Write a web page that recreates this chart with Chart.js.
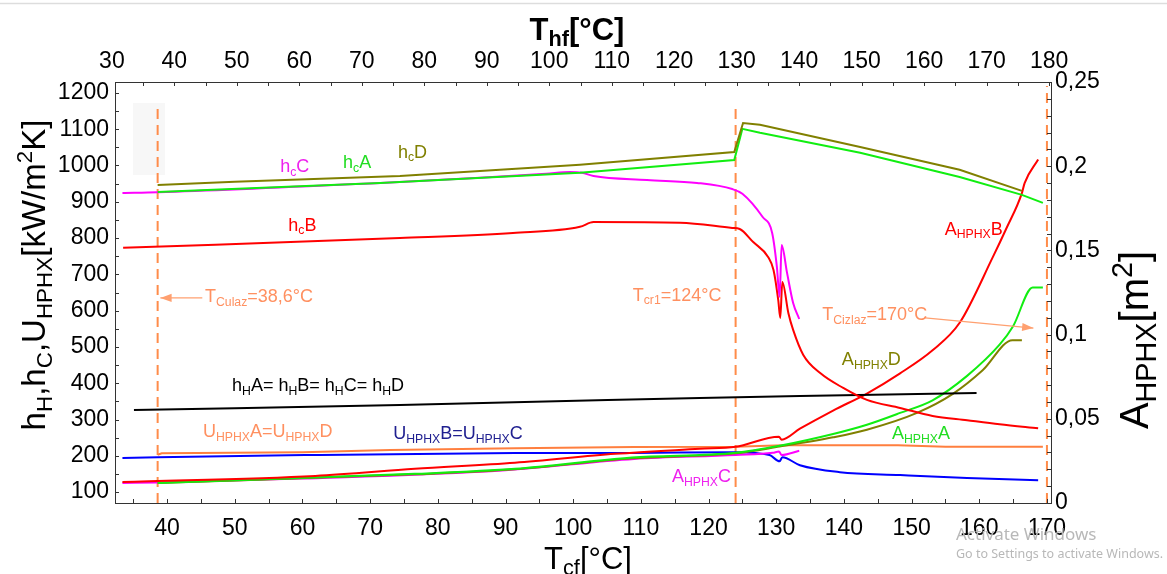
<!DOCTYPE html>
<html>
<head>
<meta charset="utf-8">
<script src="https://cdn.jsdelivr.net/npm/chart.js@4.4.1/dist/chart.umd.min.js"></script>
<style>
html,body{margin:0;padding:0;background:#fff;}
#wrap{width:1167px;height:574px;}
</style>
</head>
<body>
<div id="wrap"><canvas id="chart" width="1167" height="574"></canvas></div>
<script>
const FONT = '"Liberation Sans", Arial, sans-serif';

// tick labels
const tcfTicks = [40, 50, 60, 70, 80, 90, 100, 110, 120, 130, 140, 150, 160, 170];
const thfTicks = [30, 40, 50, 60, 70, 80, 90, 100, 110, 120, 130, 140, 150, 160, 170, 180];
const hTicks = [100, 200, 300, 400, 500, 600, 700, 800, 900, 1000, 1100, 1200];
const aTicks = [0, 0.05, 0.1, 0.15, 0.2, 0.25];

// heat transfer coefficients (left axis) vs T_cf
const hcD_T = [38.6, 50, 74.4, 101, 123.8, 125.1, 127.6, 142.4, 157.1, 166.3];
const hcD_V = [946, 955, 971, 1002, 1037, 1117, 1112, 1051, 988, 930];
const hcA_T = [38.6, 71.5, 101, 123.8, 125, 127.6, 142.4, 157.1, 166.3, 169.4];
const hcA_V = [927, 952, 980, 1015, 1101, 1090, 1035, 968, 919, 897];
const hcC_T = [33.4, 38.6, 71.5, 86.2, 96, 99.5, 101.3, 103, 110.9, 118.3, 123.5, 125, 128, 129.4, 130.1, 130.5, 130.8, 131.6, 132.5, 133.4];
const hcC_V = [924, 926, 952, 966, 977, 982, 980, 971, 960, 952, 935, 922, 858, 814, 720, 638, 781, 704, 621, 577];
const hcB_T = [33.5, 74.4, 91.1, 101, 103, 115.8, 123.5, 124.6, 126.6, 128.8, 129.6, 130.3, 130.6, 130.9, 131.8, 132.5, 134, 136.5, 139.9, 143.4, 148.3, 153.1, 158.2, 163, 168.7];
const hcB_V = [773, 800, 814, 831, 844, 842, 828, 825, 789, 748, 712, 629, 580, 679, 593, 547, 478, 428, 387, 354, 332, 310, 298, 287, 276];
const hH_T = [35.1, 50, 74.4, 105.1, 118.7, 133.5, 159.6];
const hH_V = [326, 331, 340, 354, 359, 365, 373];
const uAD_T = [38.6, 39.2, 60, 73, 91.4, 109, 124, 131, 148, 155, 169.4];
const uAD_V = [203, 207, 210, 216, 221, 224, 225, 229, 229, 225, 225];
const uBC_T = [33.4, 38.6, 60.4, 91.4, 109, 124, 129, 130.5, 130.9, 133.5, 139.4, 148.3, 158.2, 168.7];
const uBC_V = [194, 196, 202, 207.5, 208, 210, 202, 185, 196, 174, 155, 147, 139, 133];

// HPHX areas (right axis)
const aB_T = [33.4, 61.9, 76.6, 91.4, 106.2, 118.7, 124, 130.4, 130.8, 133.5, 138.4, 143.4, 148.3, 153.1, 157.1, 162, 164, 166.3, 166.7, 168.7];
const aB_V = [0.0125, 0.0161, 0.0203, 0.0239, 0.0292, 0.0322, 0.0334, 0.0394, 0.0376, 0.0441, 0.0549, 0.065, 0.077, 0.0907, 0.107, 0.146, 0.163, 0.184, 0.19, 0.204];
const aA_T = [38.6, 76.6, 91.4, 108.7, 124, 130.5, 138.4, 143.4, 148.3, 153.1, 158.2, 163, 165, 167.9, 169.4];
const aA_V = [0.0119, 0.0173, 0.0203, 0.027, 0.0298, 0.034, 0.041, 0.0465, 0.0535, 0.061, 0.0755, 0.094, 0.105, 0.128, 0.128];
const aD_T = [38.6, 76.6, 91.4, 108.7, 124, 130.5, 138.4, 143.4, 150.8, 156.1, 160.5, 164.9, 166.3];
const aD_V = [0.0119, 0.017, 0.02, 0.0265, 0.0295, 0.0335, 0.039, 0.0435, 0.0535, 0.0648, 0.0788, 0.0967, 0.0967];
const aC_T = [33.4, 38.6, 60, 90, 109, 124, 129.5, 130.4, 130.8, 133.4];
const aC_V = [0.0119, 0.0122, 0.0145, 0.0195, 0.0262, 0.0285, 0.0298, 0.0306, 0.0285, 0.031];

// critical temperatures (dashed lines)
const critT = [38.6, 124, 170];
const critTop = [1164, 1164, 1219];

const OLIVE = '#808000', GREEN = '#11ee11', MAG = '#ff00ff', RED = '#ff0000';
const ORANGE = '#ff7f3f', BLUE = '#0000ff', DASH = '#ff8c4a';

const pts = (xs, ys) => xs.map((x, i) => ({x: x, y: ys[i]}));
function line(xs, ys, color, axis, smooth) {
  const d = {data: pts(xs, ys), borderColor: color, borderWidth: 2, pointRadius: 0,
    yAxisID: axis, fill: false, tension: 0};
  if (smooth) d.cubicInterpolationMode = 'monotone';
  return d;
}

const datasets = [
  line(hcD_T, hcD_V, OLIVE, 'y', false),
  line(hcA_T, hcA_V, GREEN, 'y', false),
  line(hcC_T, hcC_V, MAG, 'y', true),
  line(hcB_T, hcB_V, RED, 'y', true),
  line(hH_T, hH_V, '#000', 'y', false),
  line(aB_T, aB_V, RED, 'y2', true),
  line(aA_T, aA_V, GREEN, 'y2', true),
  line(aD_T, aD_V, OLIVE, 'y2', true),
  line(aC_T, aC_V, MAG, 'y2', true),
  line(uAD_T, uAD_V, ORANGE, 'y', false),
  line(uBC_T, uBC_V, BLUE, 'y', true),
];
critT.forEach((t, i) => {
  datasets.push({data: [{x: t, y: 70}, {x: t, y: critTop[i]}], borderColor: DASH, borderWidth: 2,
    borderDash: [10, 6], pointRadius: 0, yAxisID: 'y'});
});

// text notes, placed in (T_cf, left axis) units
const notes = [
  {t: 'h_{c}C', x: 56.7, y: 982, c: '#ee22ee'},
  {t: 'h_{c}A', x: 66, y: 993, c: '#22dd22'},
  {t: 'h_{c}D', x: 74.1, y: 1021, c: OLIVE},
  {t: 'h_{c}B', x: 57.9, y: 820, c: RED},
  {t: 'T_{Culaz}=38,6°C', x: 45.6, y: 624, c: '#ff9060'},
  {t: 'T_{cr1}=124°C', x: 108.8, y: 627, c: '#ff9060'},
  {t: 'T_{Cizlaz}=170°C', x: 136.8, y: 574, c: '#ff9060'},
  {t: 'A_{HPHX}B', x: 154.9, y: 809, c: RED},
  {t: 'A_{HPHX}D', x: 139.7, y: 450, c: OLIVE},
  {t: 'A_{HPHX}A', x: 147.1, y: 246, c: '#22dd22'},
  {t: 'A_{HPHX}C', x: 114.6, y: 128, c: '#ee22ee'},
  {t: 'h_{H}A= h_{H}B= h_{H}C= h_{H}D', x: 49.6, y: 378, c: '#000'},
  {t: 'U_{HPHX}A=U_{HPHX}D', x: 45.3, y: 252, c: '#ff9060'},
  {t: 'U_{HPHX}B=U_{HPHX}C', x: 73.4, y: 246, c: '#202090'},
];
const arrows = [
  {x1: 45.2, y1: 635, x2: 39, y2: 635},
  {x1: 152, y1: 580, x2: 168, y2: 552},
];

function parse(s) {
  const out = [];
  const re = /([_^])\{([^}]*)\}|([^_^]+)/g;
  let m;
  while ((m = re.exec(s))) {
    if (m[3]) out.push([m[3], 0]);
    else out.push([m[2], m[1] === '_' ? 1 : 2]);
  }
  return out;
}
function rich(ctx, s, x, y, size, color, align, bold, subScale) {
  const parts = parse(s);
  const sc = subScale || 0.65;
  const f = k => (bold ? 'bold ' : '') + (k ? size * sc : size) + 'px ' + FONT;
  let w = 0;
  parts.forEach(p => { ctx.font = f(p[1]); w += ctx.measureText(p[0]).width; });
  let cx = align === 'center' ? x - w / 2 : x;
  ctx.fillStyle = color; ctx.textAlign = 'left'; ctx.textBaseline = 'alphabetic';
  parts.forEach(p => {
    ctx.font = f(p[1]);
    const dy = p[1] === 1 ? size * 0.2 : p[1] === 2 ? -size * 0.4 : 0;
    ctx.fillText(p[0], cx, y + dy);
    cx += ctx.measureText(p[0]).width;
  });
}

const decor = {
  id: 'decor',
  beforeDatasetsDraw(chart) {
    const {ctx} = chart;
    ctx.save();
    ctx.fillStyle = '#f7f7f7';
    ctx.fillRect(133, 103, 32, 72);
    ctx.restore();
  },
  afterDraw(chart) {
    const {ctx, chartArea: a, scales} = chart;
    const x = scales.x, x2 = scales.x2, y = scales.y, y2 = scales.y2;
    ctx.save();
    // frame
    ctx.strokeStyle = '#333'; ctx.lineWidth = 1;
    ctx.strokeRect(Math.round(a.left) + 0.5, Math.round(a.top) + 0.5, Math.round(a.width), Math.round(a.height));
    // inward ticks
    ctx.beginPath();
    for (let v = 35; v <= 170; v += 5) { const p = Math.round(x.getPixelForValue(v)) + 0.5; ctx.moveTo(p, a.bottom); ctx.lineTo(p, a.bottom - 4); }
    for (let v = 35; v <= 180; v += 5) { const p = Math.round(x2.getPixelForValue(v)) + 0.5; ctx.moveTo(p, a.top); ctx.lineTo(p, a.top + 4); }
    for (let v = 100; v <= 1200; v += 50) { const p = Math.round(y.getPixelForValue(v)) + 0.5; ctx.moveTo(a.left, p); ctx.lineTo(a.left + 4, p); }
    for (let i = 0; i <= 25; i++) { const p = Math.round(y2.getPixelForValue(i / 100)) + 0.5; ctx.moveTo(a.right, p); ctx.lineTo(a.right - 4, p); }
    ctx.stroke();
    // arrows
    ctx.strokeStyle = '#ffa070'; ctx.fillStyle = '#ffa070'; ctx.lineWidth = 1.3;
    arrows.forEach(r => {
      const p1 = [x.getPixelForValue(r.x1), y.getPixelForValue(r.y1)];
      const p2 = [x.getPixelForValue(r.x2), y.getPixelForValue(r.y2)];
      const ang = Math.atan2(p2[1] - p1[1], p2[0] - p1[0]);
      ctx.beginPath(); ctx.moveTo(p1[0], p1[1]); ctx.lineTo(p2[0], p2[1]); ctx.stroke();
      ctx.beginPath();
      ctx.moveTo(p2[0], p2[1]);
      ctx.lineTo(p2[0] - 12 * Math.cos(ang - 0.35), p2[1] - 12 * Math.sin(ang - 0.35));
      ctx.lineTo(p2[0] - 12 * Math.cos(ang + 0.35), p2[1] - 12 * Math.sin(ang + 0.35));
      ctx.closePath(); ctx.fill();
    });
    // notes
    notes.forEach(n => rich(ctx, n.t, x.getPixelForValue(n.x), y.getPixelForValue(n.y), 18, n.c, 'left', false, 0.68));
    // axis titles
    rich(ctx, 'T_{hf}[°C]', 577, 40, 31, '#000', 'center', true, 0.7);
    rich(ctx, 'T_{cf}[°C]', 588, 569, 31, '#000', 'center', false, 0.7);
    ctx.save(); ctx.translate(45, 275); ctx.rotate(-Math.PI / 2);
    rich(ctx, 'h_{H},h_{C},U_{HPHX}[kW/m^{2}K]', 0, 0, 33, '#000', 'center', false, 0.68);
    ctx.restore();
    ctx.save(); ctx.translate(1148, 340); ctx.rotate(-Math.PI / 2);
    rich(ctx, 'A_{HPHX}[m^{2}]', 0, 0, 40, '#000', 'center', false, 0.72);
    ctx.restore();
    // screenshot leftovers
    ctx.fillStyle = '#b8b8b8'; ctx.font = '17px "Noto Sans", sans-serif';
    ctx.fillText('Activate Windows', 956, 540);
    ctx.font = '12.5px "Noto Sans", sans-serif';
    ctx.fillText('Go to Settings to activate Windows.', 956, 558);
    ctx.strokeStyle = '#dddddd'; ctx.beginPath(); ctx.moveTo(0, 3.5); ctx.lineTo(1167, 3.5); ctx.stroke();
    ctx.restore();
  }
};

const tickFont = {size: 23, family: FONT};
new Chart(document.getElementById('chart'), {
  type: 'line',
  data: {datasets: datasets},
  options: {
    responsive: false, animation: false, devicePixelRatio: 1,
    layout: {padding: 0},
    plugins: {legend: {display: false}, tooltip: {enabled: false}},
    scales: {
      x: {type: 'linear', position: 'bottom', min: 32.3, max: 170.6,
        afterBuildTicks: s => { s.ticks = tcfTicks.map(v => ({value: v})); },
        afterFit: s => { s.height = 71; },
        grid: {display: false, drawTicks: false}, border: {display: false},
        ticks: {color: '#000', font: tickFont, padding: 12, maxRotation: 0, autoSkip: false, callback: v => String(v)}},
      x2: {type: 'linear', position: 'top', min: 30.5, max: 180.3,
        afterBuildTicks: s => { s.ticks = thfTicks.map(v => ({value: v})); },
        afterFit: s => { s.height = 82; },
        grid: {display: false, drawTicks: false}, border: {display: false},
        ticks: {color: '#000', font: tickFont, padding: 7, maxRotation: 0, autoSkip: false, callback: v => String(v)}},
      y: {type: 'linear', position: 'left', min: 70, max: 1230,
        afterBuildTicks: s => { s.ticks = hTicks.map(v => ({value: v})); },
        afterFit: s => { s.width = 115; },
        grid: {display: false, drawTicks: false}, border: {display: false},
        ticks: {color: '#000', font: tickFont, padding: 6, autoSkip: false, callback: v => String(v)}},
      y2: {type: 'linear', position: 'right', min: 0, max: 0.25,
        afterBuildTicks: s => { s.ticks = aTicks.map(v => ({value: v})); },
        afterFit: s => { s.width = 116; },
        grid: {display: false, drawTicks: false}, border: {display: false},
        ticks: {color: '#000', font: tickFont, padding: 4, autoSkip: false,
          callback: v => String(+v.toFixed(2)).replace('.', ',')}}
    }
  },
  plugins: [decor]
});
</script>
</body>
</html>
